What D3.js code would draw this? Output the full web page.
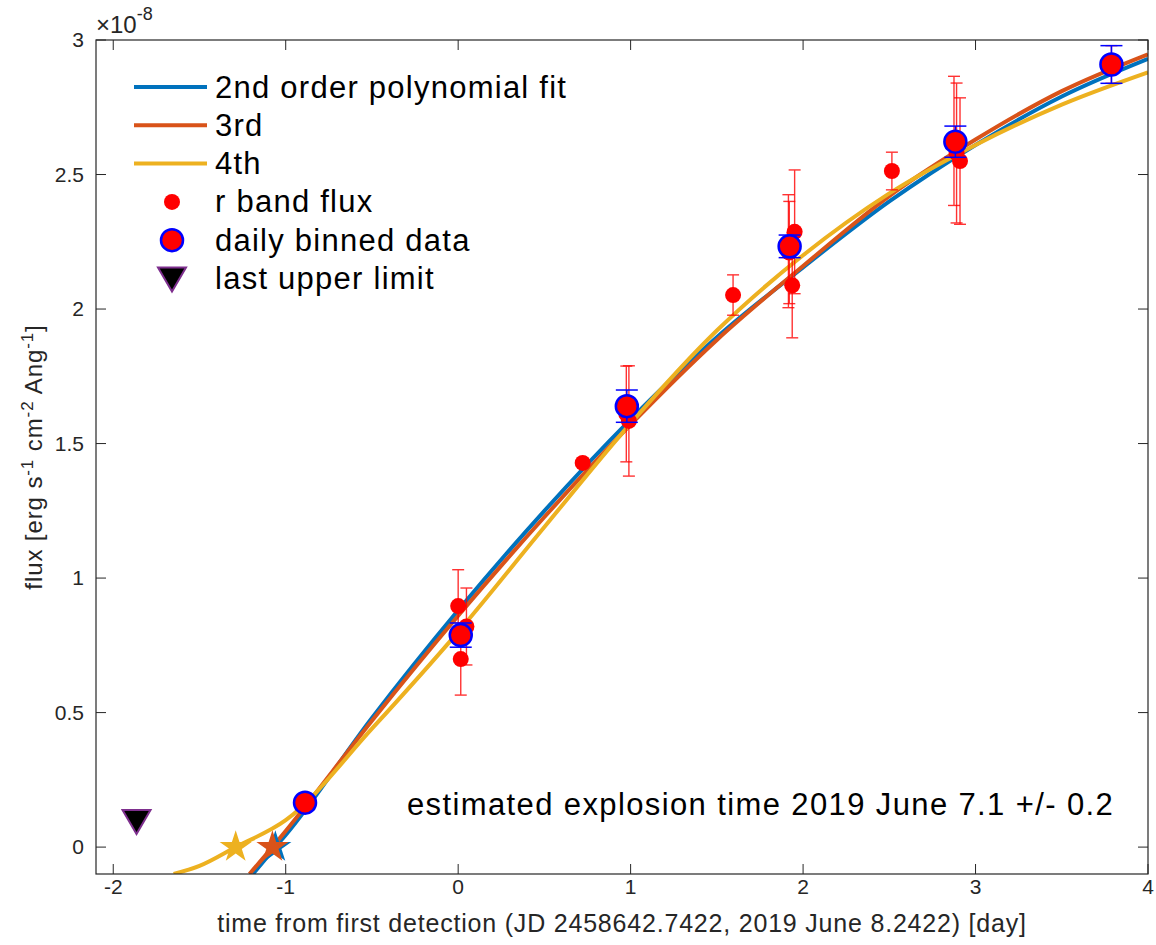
<!DOCTYPE html>
<html>
<head>
<meta charset="UTF-8">
<script src="https://d3js.org/d3.v7.min.js"></script>
<style>
  body { margin: 0; background: #fff; }
  text { font-family: "Liberation Sans", Arial, sans-serif; fill: #262626; }
</style>
</head>
<body>
<svg id="chart" width="1156" height="945"></svg>
<script>
// r band flux (units of 1e-8)
const rX   = [-0.888, 0.000, 0.048, 0.015, 0.722, 0.975, 0.990, 1.594, 1.915, 1.920, 1.951, 1.937, 2.515, 2.875, 2.890, 2.910, 3.788];
const rY   = [0.165, 0.896, 0.820, 0.699, 1.428, 1.610, 1.584, 2.052, 2.215, 2.210, 2.287, 2.088, 2.513, 2.625, 2.580, 2.550, 2.909];
const rErr = [0.010, 0.135, 0.143, 0.134, 0.010, 0.178, 0.205, 0.075, 0.210, 0.190, 0.230, 0.195, 0.070, 0.240, 0.260, 0.235, 0.070];

// daily binned data
const binX   = [-0.888, 0.015, 0.978, 1.922, 2.883, 3.788];
const binY   = [0.165, 0.788, 1.639, 2.233, 2.622, 2.909];
const binErr = [0.010, 0.045, 0.060, 0.042, 0.058, 0.070];

// polynomial fits
const fit2X = [-1.19, -1.06, -1, -0.5, 0, 0.5, 1, 1.5, 2, 2.5, 3, 3.5, 4];
const fit2Y = [-0.10, 0, 0.045, 0.48, 0.88, 1.25, 1.59, 1.895, 2.155, 2.40, 2.61, 2.79, 2.93];
const fit3X = [-1.21, -1.077, -1, -0.5, 0, 0.5, 1, 1.5, 2, 2.5, 3, 3.5, 4];
const fit3Y = [-0.10, 0, 0.06, 0.47, 0.86, 1.227, 1.57, 1.885, 2.16, 2.42, 2.63, 2.81, 2.947];
const fit4X = [-1.65, -1.5, -1.29, -1, -0.5, 0, 0.5, 1, 1.5, 2, 2.5, 3, 3.5, 4];
const fit4Y = [-0.10, -0.07, 0, 0.10, 0.44, 0.80, 1.19, 1.575, 1.92, 2.20, 2.43, 2.61, 2.76, 2.88];

// explosion time estimates (stars) and last upper limit
const starX = [-1.06, -1.077, -1.29];
const starY = [0, 0, 0];
const limitX = [-1.865];
const limitY = [0.097];

const xTicks = [-2, -1, 0, 1, 2, 3, 4];
const yTicks = [0, 0.5, 1, 1.5, 2, 2.5, 3];

const colors = ["#0072BD", "#D95319", "#EDB120"];
const legendLabels = ["2nd order polynomial fit", "3rd", "4th", "r band flux", "daily binned data", "last upper limit"];

const svg = d3.select("#chart");
const pL = 96, pR = 1148, pT = 40, pB = 874;

const x = d3.scaleLinear().domain([-2.1, 4]).range([pL, pR]);
const y = d3.scaleLinear().domain([-0.1, 3]).range([pB, pT]);

svg.append("defs").append("clipPath").attr("id", "clip")
  .append("rect").attr("x", pL).attr("y", pT).attr("width", pR - pL).attr("height", pB - pT);

const plot = svg.append("g").attr("clip-path", "url(#clip)");

// fit lines
const line = d3.line().x(d => x(d[0])).y(d => y(d[1])).curve(d3.curveMonotoneX);
[[fit2X, fit2Y], [fit3X, fit3Y], [fit4X, fit4Y]].forEach(([xs, ys], i) => {
  plot.append("path")
    .attr("d", line(xs.map((v, j) => [v, ys[j]])))
    .attr("fill", "none")
    .attr("stroke", colors[i])
    .attr("stroke-width", 4);
});

// stars: blue first so orange sits on top
const star = d3.symbol().type(d3.symbolStar).size(320);
starX.forEach((v, i) => {
  plot.append("path")
    .attr("d", star())
    .attr("transform", `translate(${x(v)},${y(starY[i])})`)
    .attr("fill", colors[i]);
});

// upper limit triangle
const tri = "M-14,-11L14,-11L0,13Z";
limitX.forEach((v, i) => {
  plot.append("path")
    .attr("d", tri)
    .attr("transform", `translate(${x(v)},${y(limitY[i])})`)
    .attr("fill", "#000")
    .attr("stroke", "#7E2F8E")
    .attr("stroke-width", 2);
});

// error bars
function errBars(g, xs, ys, es, color, cap, width, op) {
  xs.forEach((v, i) => {
    const cx = x(v), y1 = y(ys[i] + es[i]), y2 = y(ys[i] - es[i]);
    const e = g.append("g").attr("stroke", color).attr("stroke-width", width).attr("opacity", op);
    e.append("line").attr("x1", cx).attr("x2", cx).attr("y1", y1).attr("y2", y2);
    e.append("line").attr("x1", cx - cap).attr("x2", cx + cap).attr("y1", y1).attr("y2", y1);
    e.append("line").attr("x1", cx - cap).attr("x2", cx + cap).attr("y1", y2).attr("y2", y2);
  });
}
errBars(plot, rX, rY, rErr, "#ff0000", 6, 1.4, 0.8);
rX.forEach((v, i) => {
  plot.append("circle").attr("cx", x(v)).attr("cy", y(rY[i])).attr("r", 8).attr("fill", "#ff0000");
});

// binned
errBars(plot, binX, binY, binErr, "#0000ff", 11, 1.5, 1);
binX.forEach((v, i) => {
  plot.append("circle").attr("cx", x(v)).attr("cy", y(binY[i])).attr("r", 11)
    .attr("fill", "#ff0000").attr("stroke", "#0000ff").attr("stroke-width", 2.5);
});

// axes box and ticks
svg.append("rect").attr("x", pL).attr("y", pT).attr("width", pR - pL).attr("height", pB - pT)
  .attr("fill", "none").attr("stroke", "#262626").attr("stroke-width", 1.2);

const tickLen = 10;
const ax = svg.append("g").attr("stroke", "#262626").attr("stroke-width", 1);
xTicks.forEach(t => {
  ax.append("line").attr("x1", x(t)).attr("x2", x(t)).attr("y1", pB).attr("y2", pB - tickLen);
  ax.append("line").attr("x1", x(t)).attr("x2", x(t)).attr("y1", pT).attr("y2", pT + tickLen);
});
yTicks.forEach(t => {
  ax.append("line").attr("x1", pL).attr("x2", pL + tickLen).attr("y1", y(t)).attr("y2", y(t));
  ax.append("line").attr("x1", pR).attr("x2", pR - tickLen).attr("y1", y(t)).attr("y2", y(t));
});

svg.append("g").selectAll("text").data(xTicks).join("text")
  .attr("x", d => x(d)).attr("y", 894)
  .attr("text-anchor", "middle").attr("font-size", 21)
  .text(d => d);
svg.append("g").selectAll("text").data(yTicks).join("text")
  .attr("x", 84).attr("y", d => y(d) + 7)
  .attr("text-anchor", "end").attr("font-size", 21)
  .text(d => d);

// exponent
const ex = svg.append("text").attr("x", 96).attr("y", 33);
ex.append("tspan").attr("font-size", 24).text("\u00d710");
ex.append("tspan").attr("dy", -13).attr("font-size", 18).text("-8");

// axis labels
svg.append("text")
  .attr("x", (pL + pR) / 2).attr("y", 932)
  .attr("text-anchor", "middle").attr("font-size", 25).style("letter-spacing", "0.8px")
  .text("time from first detection (JD 2458642.7422, 2019 June 8.2422) [day]");

const yl = svg.append("text")
  .attr("transform", "translate(42,457) rotate(-90)")
  .attr("text-anchor", "middle").attr("font-size", 24).style("letter-spacing", "0.9px");
yl.append("tspan").text("flux [erg s");
yl.append("tspan").attr("dy", -9).attr("font-size", 17).text("-1");
yl.append("tspan").attr("dy", 9).text("  cm");
yl.append("tspan").attr("dy", -9).attr("font-size", 17).text("-2");
yl.append("tspan").attr("dy", 9).text("  Ang");
yl.append("tspan").attr("dy", -9).attr("font-size", 17).text("-1");
yl.append("tspan").attr("dy", 9).text("]");

// annotation
svg.append("text").attr("x", 407).attr("y", 815)
  .attr("font-size", 31).style("letter-spacing", "1.38px").style("fill", "#000")
  .text("estimated explosion time 2019 June 7.1 +/- 0.2");

// legend
const lg = svg.append("g");
const rowY0 = 87, rowStep = 38.3;
legendLabels.forEach((lab, i) => {
  const ry = rowY0 + i * rowStep;
  if (i < 3) {
    lg.append("line").attr("x1", 134).attr("x2", 207).attr("y1", ry).attr("y2", ry)
      .attr("stroke", colors[i]).attr("stroke-width", 4);
  } else if (i === 3) {
    lg.append("circle").attr("cx", 172).attr("cy", ry).attr("r", 8).attr("fill", "#ff0000");
  } else if (i === 4) {
    lg.append("circle").attr("cx", 172).attr("cy", ry).attr("r", 11)
      .attr("fill", "#ff0000").attr("stroke", "#0000ff").attr("stroke-width", 2.5);
  } else {
    lg.append("path").attr("d", tri).attr("transform", `translate(172,${ry})`)
      .attr("fill", "#000").attr("stroke", "#7E2F8E").attr("stroke-width", 2);
  }
  lg.append("text").attr("x", 215).attr("y", ry + 10.5)
    .attr("font-size", 31).style("letter-spacing", "1.25px").style("fill", "#000")
    .text(lab);
});
</script>
</body>
</html>
